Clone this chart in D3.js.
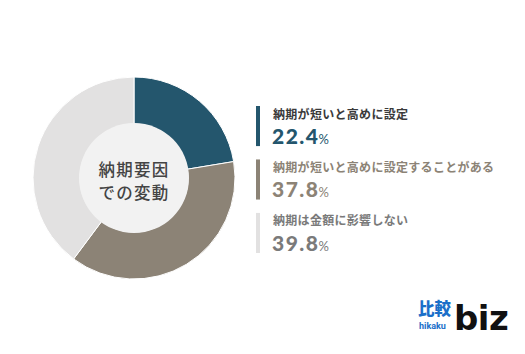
<!DOCTYPE html>
<html><head><meta charset="utf-8">
<script src="https://cdn.jsdelivr.net/npm/d3@7"></script>
<style>body{margin:0;background:#fff;}svg{display:block;font-family:"Noto Sans CJK JP","Noto Sans",sans-serif;}</style>
</head><body>
<script>
const categories = ["納期が短いと高めに設定", "納期が短いと高めに設定することがある", "納期は金額に影響しない"];
const values = [22.4, 37.8, 39.8];
const sliceColors = ["#24566d", "#8c8376", "#e2e1e1"];
const labelColors = ["#3a3a3a", "#8c8376", "#7a7a7a"];
const valueColors = ["#24566d", "#8c8376", "#7a7a7a"];
const centerLines = ["納期要因", "での変動"];

const W = 525, H = 354;
const svg = d3.select("body").append("svg").attr("width", W).attr("height", H);

const cx = 134, cy = 178, R = 101, r0 = 55;
const pie = d3.pie().sort(null).value(d => d);
const arc = d3.arc().innerRadius(r0 - 1).outerRadius(R);
const g = svg.append("g").attr("transform", `translate(${cx},${cy})`);
g.selectAll("path").data(pie(values)).join("path")
  .attr("d", arc).attr("fill", (d, i) => sliceColors[i])
  .attr("stroke", "#fff").attr("stroke-width", 1);
g.append("circle").attr("r", r0).attr("fill", "#f2f2f2");
g.selectAll("text.c").data(centerLines).join("text")
  .attr("class", "c").attr("text-anchor", "middle")
  .attr("y", (d, i) => -8 + i * 23).attr("dy", "0.35em")
  .attr("font-size", 16.5).attr("font-weight", 500).attr("fill", "#444")
  .attr("letter-spacing", 1.2).text(d => d);

const legY = d3.scaleBand().domain(d3.range(categories.length)).range([106, 253]).paddingInner(0.25);
const lg = svg.selectAll("g.leg").data(categories).join("g").attr("class", "leg")
  .attr("transform", (d, i) => `translate(256,${legY(i)})`);
lg.append("rect").attr("width", 4).attr("height", legY.bandwidth()).attr("fill", (d, i) => sliceColors[i]);
lg.append("text").attr("x", 17).attr("y", 12.5).attr("font-size", 12).attr("font-weight", 700)
  .attr("letter-spacing", 0.3)
  .attr("fill", (d, i) => labelColors[i]).text(d => d);
const vt = lg.append("text").attr("x", 16).attr("y", 38).attr("fill", (d, i) => valueColors[i])
  .attr("font-family", "Lato, 'Open Sans', sans-serif");
vt.append("tspan").attr("font-size", 21).attr("font-weight", 900).attr("letter-spacing", 1.5)
  .text((d, i) => values[i].toFixed(1));
vt.append("tspan").attr("font-size", 13).attr("font-weight", 400).attr("dx", -1).text("%");

// logo
const logo = svg.append("g").attr("transform", "translate(418,300)");
logo.append("text").attr("x", 0).attr("y", 15).attr("font-size", 16.5).attr("font-weight", 900)
  .attr("fill", "#1b6fc9").text("比較");
logo.append("text").attr("x", 1).attr("y", 28.5).attr("font-size", 9).attr("font-weight", 700)
  .attr("font-family", "Roboto, sans-serif").attr("fill", "#1b6fc9").text("hikaku");
logo.append("text").attr("x", 36).attr("y", 30).attr("font-size", 34).attr("font-weight", 900)
  .attr("font-family", "'DejaVu Sans', sans-serif").attr("fill", "#111").attr("letter-spacing", -0.5).text("biz");
</script>
</body></html>
